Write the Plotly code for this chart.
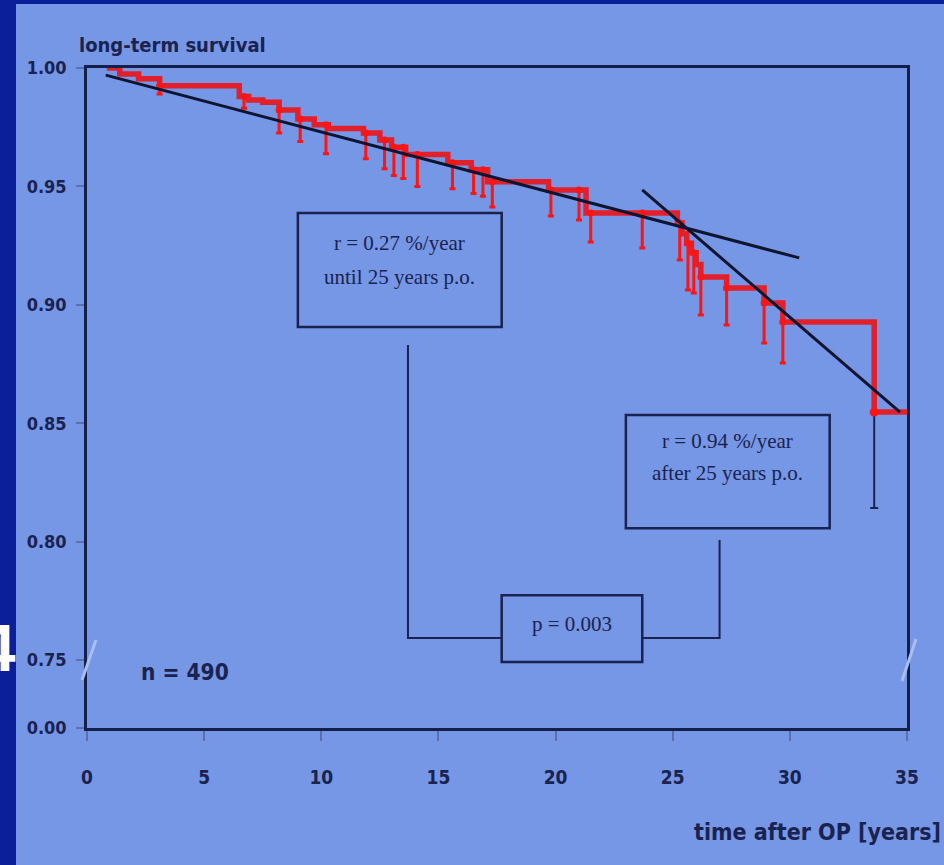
import numpy as np
import plotly.graph_objects as go

# ---------------- data ----------------
step_time = [0.85, 1.4, 2.2, 3.1, 6.5, 6.9, 7.5, 8.2, 9.0, 9.7, 10.3, 11.8, 12.5, 13.0,
             13.6, 15.4, 16.4, 17.1, 19.7, 21.3, 25.2, 25.4, 25.6, 25.8, 26.0, 26.2,
             27.3, 28.9, 29.7, 33.6, 35.0]
step_surv = [1.000, 0.9975, 0.9955, 0.9925, 0.9880, 0.9865, 0.9855, 0.9823, 0.9785, 0.9760,
             0.9745, 0.9725, 0.9696, 0.9665, 0.9635, 0.9600, 0.9570, 0.9520, 0.9485, 0.9388,
             0.9345, 0.9300, 0.9260, 0.9220, 0.9170, 0.9117, 0.9071, 0.9008, 0.8927, 0.8547,
             0.8547]

censor_time = [3.1, 6.7, 8.2, 9.1, 10.2, 11.9, 12.7, 13.1, 13.5, 14.1, 15.6, 16.5, 16.9,
               17.3, 19.8, 21.0, 21.5, 23.7, 25.3, 25.65, 25.9, 26.2, 27.3, 28.9, 29.7, 33.6]
censor_low = [0.989, 0.983, 0.9725, 0.9690, 0.9638, 0.9617, 0.9575, 0.9546, 0.9533, 0.9500,
              0.9490, 0.9470, 0.9458, 0.9413, 0.9375, 0.9358, 0.9265, 0.9240, 0.9189, 0.9063,
              0.9050, 0.8957, 0.8915, 0.8839, 0.8754, 0.8142]

fit_early_x = [0.8, 30.4]
fit_early_y = [0.9970, 0.9198]
fit_late_x = [23.7, 34.7]
fit_late_y = [0.9485, 0.8547]

x_ticks = [0, 5, 10, 15, 20, 25, 30, 35]
y_tick_vals = [0.7213, 0.75, 0.80, 0.85, 0.90, 0.95, 1.00]
y_tick_text = ["0.00", "0.75", "0.80", "0.85", "0.90", "0.95", "1.00"]

# ---------------- styling ----------------
NAVY = "#1a2350"
DARK_BG = "#0c1f9a"
PANEL = "#7696e6"
RED = "#e2202c"
BRIGHT = "#ff1414"
SANS = "Liberation Sans Narrow, Arial Narrow, DejaVu Sans Condensed, Liberation Sans, Arial"
SERIF = "Liberation Serif, Times New Roman, serif"

W, H = 944, 865
ML, MR, MT, MB = 87, 37, 68, 137
PW, PH = W - ML - MR, H - MT - MB


def px(x):
    return (x - ML) / PW


def py(y):
    return (H - MB - y) / PH


# censor tops from step function
st = np.array(step_time)
ss = np.array(step_surv)
ct = np.array(censor_time)
cl = np.array(censor_low)
idx = np.searchsorted(st, ct, side="right") - 1
ctop = ss[idx]
cminus = ctop - cl

fig = go.Figure()

# KM step curve
fig.add_trace(go.Scatter(x=step_time, y=step_surv, mode="lines", line_shape="hv",
                         line=dict(color=RED, width=5.5), showlegend=False, hoverinfo="skip"))

# censor marks (red)
n_red = len(ct) - 1
fig.add_trace(go.Scatter(
    x=ct[:n_red], y=ctop[:n_red], mode="markers",
    marker=dict(color=BRIGHT, size=7),
    error_y=dict(type="data", symmetric=False, array=np.zeros(n_red), arrayminus=cminus[:n_red],
                 color=BRIGHT, thickness=3, width=3),
    showlegend=False, hoverinfo="skip"))
# last censor mark (dark)
fig.add_trace(go.Scatter(
    x=ct[n_red:], y=ctop[n_red:], mode="markers",
    marker=dict(color=BRIGHT, size=9),
    error_y=dict(type="data", symmetric=False, array=[0], arrayminus=cminus[n_red:],
                 color=NAVY, thickness=2, width=4),
    showlegend=False, hoverinfo="skip"))

# regression lines
fig.add_trace(go.Scatter(x=fit_early_x, y=fit_early_y, mode="lines",
                         line=dict(color="#0f1530", width=3), showlegend=False, hoverinfo="skip"))
fig.add_trace(go.Scatter(x=fit_late_x, y=fit_late_y, mode="lines",
                         line=dict(color="#0f1530", width=3), showlegend=False, hoverinfo="skip"))

shapes = [
    # light panel over dark background
    dict(type="rect", xref="paper", yref="paper", x0=px(16), x1=px(W + 5), y0=py(H + 5), y1=py(4),
         fillcolor=PANEL, line=dict(width=0), layer="below"),
    # annotation boxes
    dict(type="rect", xref="x", yref="y", x0=9.0, x1=17.7, y0=0.8906, y1=0.9388,
         line=dict(color=NAVY, width=2.5)),
    dict(type="rect", xref="x", yref="y", x0=23.0, x1=31.7, y0=0.8057, y1=0.8535,
         line=dict(color=NAVY, width=2.5)),
    dict(type="rect", xref="x", yref="y", x0=17.7, x1=23.7, y0=0.7492, y1=0.7774,
         line=dict(color=NAVY, width=2.5)),
    # connectors
    dict(type="path", xref="x", yref="y", path="M 13.7,0.883 L 13.7,0.7593 L 17.7,0.7593",
         line=dict(color=NAVY, width=2)),
    dict(type="path", xref="x", yref="y", path="M 23.7,0.7593 L 27.0,0.7593 L 27.0,0.8007",
         line=dict(color=NAVY, width=2)),
    # axis break marks
    dict(type="line", xref="paper", yref="paper", x0=px(82), x1=px(96), y0=py(680), y1=py(640),
         line=dict(color="#a9bff2", width=3)),
    dict(type="line", xref="paper", yref="paper", x0=px(902), x1=px(916), y0=py(681), y1=py(639),
         line=dict(color="#a9bff2", width=3)),
]

annotations = [
    dict(text="4", xref="paper", yref="paper", x=px(18), y=py(648), xanchor="right", yanchor="middle",
         showarrow=False, font=dict(family="Liberation Sans, Arial", size=66, color="white", weight="bold")),
    dict(text="long-term survival", xref="paper", yref="paper", x=px(77), y=py(45),
         xanchor="left", yanchor="middle", showarrow=False,
         font=dict(family=SANS, size=20, color=NAVY, weight="bold")),
    dict(text="time after OP [years]", xref="paper", yref="paper", x=px(943), y=py(832),
         xanchor="right", yanchor="middle", showarrow=False,
         font=dict(family=SANS, size=23, color=NAVY, weight="bold")),
    dict(text="n = 490", xref="x", yref="y", x=4.2, y=0.7449, showarrow=False,
         font=dict(family=SANS, size=22.5, color=NAVY, weight="bold")),
    dict(text="r = 0.27 %/year", xref="x", yref="y", x=13.35, y=0.9261, showarrow=False,
         font=dict(family=SERIF, size=21, color=NAVY)),
    dict(text="until 25 years p.o.", xref="x", yref="y", x=13.35, y=0.9117, showarrow=False,
         font=dict(family=SERIF, size=21, color=NAVY)),
    dict(text="r = 0.94 %/year", xref="x", yref="y", x=27.35, y=0.8425, showarrow=False,
         font=dict(family=SERIF, size=21, color=NAVY)),
    dict(text="after 25 years p.o.", xref="x", yref="y", x=27.35, y=0.8290, showarrow=False,
         font=dict(family=SERIF, size=21, color=NAVY)),
    dict(text="p = 0.003", xref="x", yref="y", x=20.7, y=0.7652, showarrow=False,
         font=dict(family=SERIF, size=21, color=NAVY)),
]

fig.update_layout(
    width=W, height=H, autosize=False,
    margin=dict(l=ML, r=MR, t=MT, b=MB, pad=0),
    paper_bgcolor=DARK_BG, plot_bgcolor=PANEL,
    shapes=shapes, annotations=annotations,
    showlegend=False,
)
fig.update_xaxes(range=[0, 35], tickvals=x_ticks, ticktext=[str(v) for v in x_ticks],
                 showgrid=False, zeroline=False, showline=True, mirror=True,
                 linecolor="#14204a", linewidth=2.5, ticks="outside", ticklen=10,
                 tickcolor="#5c6fb0", tickwidth=2, ticklabelstandoff=20,
                 tickfont=dict(family=SANS, size=19, color=NAVY, weight="bold"))
fig.update_yaxes(range=[y_tick_vals[0], 1.0], tickvals=y_tick_vals, ticktext=y_tick_text,
                 showgrid=False, zeroline=False, showline=True, mirror=True,
                 linecolor="#14204a", linewidth=2.5, ticks="outside", ticklen=8,
                 tickcolor="#5c6fb0", tickwidth=2, ticklabelstandoff=6,
                 tickfont=dict(family=SANS, size=18, color=NAVY, weight="bold"))

fig.write_html("out.html")
